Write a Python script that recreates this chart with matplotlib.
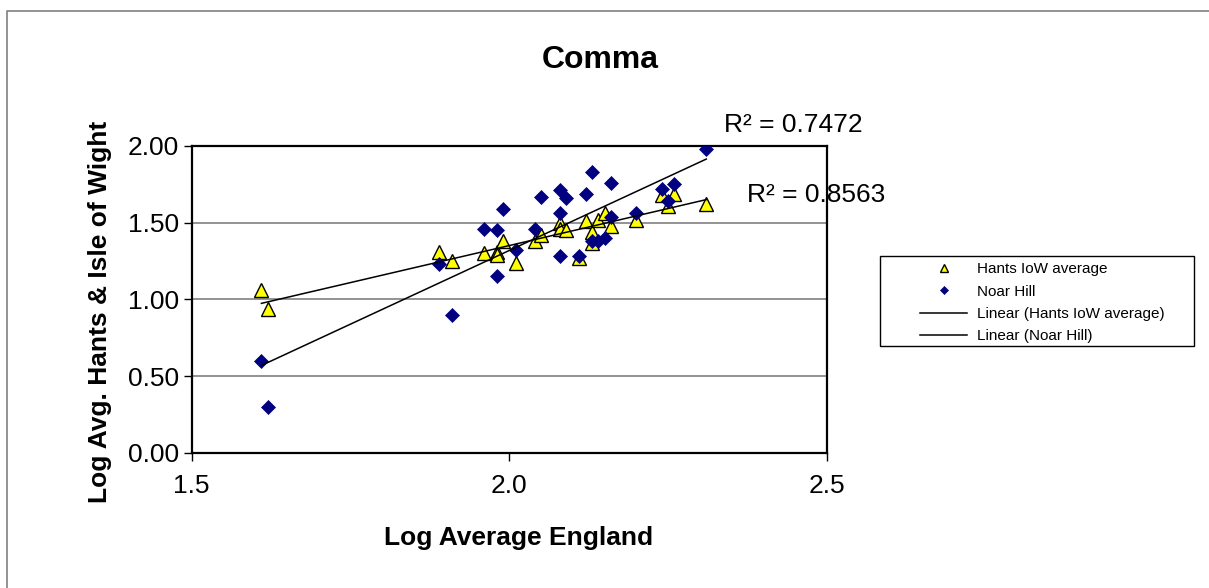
#%% COMMA - log abundance, Hants & IoW vs England
import numpy as np
import matplotlib
matplotlib.use('Agg')
import matplotlib.pyplot as plt
from matplotlib.lines import Line2D
from matplotlib.patches import Rectangle

plt.rcParams['font.family'] = ['Liberation Sans', 'DejaVu Sans']

#%% DATAS

# Hants IoW average (triangles)
hants_x = [1.61, 1.62, 1.89, 1.91, 1.96, 1.98, 1.98, 1.99, 2.01, 2.04, 2.05, 2.08, 2.08,
           2.09, 2.12, 2.13, 2.13, 2.11, 2.14, 2.15, 2.16, 2.20, 2.24, 2.26, 2.25, 2.31]
hants_y = [1.06, 0.94, 1.31, 1.25, 1.30, 1.31, 1.29, 1.38, 1.24, 1.38, 1.42, 1.50, 1.46,
           1.45, 1.51, 1.44, 1.37, 1.27, 1.52, 1.56, 1.48, 1.52, 1.68, 1.69, 1.61, 1.62]

# Noar Hill (diamonds)
noar_x = [1.61, 1.62, 1.89, 1.91, 1.96, 1.98, 1.99, 1.98, 2.01, 2.04, 2.05, 2.08, 2.09, 2.08,
          2.08, 2.11, 2.12, 2.13, 2.13, 2.14, 2.15, 2.16, 2.16, 2.20, 2.24, 2.26, 2.25, 2.31]
noar_y = [0.60, 0.30, 1.23, 0.90, 1.46, 1.45, 1.59, 1.15, 1.32, 1.46, 1.67, 1.71, 1.66, 1.56,
          1.28, 1.28, 1.69, 1.83, 1.38, 1.38, 1.40, 1.76, 1.54, 1.56, 1.72, 1.75, 1.64, 1.98]

r2_labels = ['R² = 0.7472', 'R² = 0.8563']
yticks = [0.0, 0.5, 1.0, 1.5, 2.0]
xticks = [1.5, 2.0, 2.5]

#%% PLOT

W, H = 1209, 588
fig = plt.figure(figsize=(W/100, H/100), dpi=100)

def fx(px):
    return px/W

def fy(py):
    return 1 - py/H

# outer chart frame (only left and top edges fall inside the picture)
fig.add_artist(Line2D([fx(7), fx(7), fx(1209)], [fy(588), fy(11), fy(11)],
                      transform=fig.transFigure, color='#808080', linewidth=1.2))

ax = fig.add_axes([fx(191.5), fy(452.7), fx(827)-fx(191.5), fy(146)-fy(452.7)])

for v in yticks[1:-1]:
    ax.axhline(v, color='#808080', linewidth=1.2, zorder=0)

ax.plot(hants_x, hants_y, linestyle='none', marker='^', markersize=9.5,
        markerfacecolor='#FFFF00', markeredgecolor='black', markeredgewidth=1,
        label='Hants IoW average', zorder=3)
ax.plot(noar_x, noar_y, linestyle='none', marker='D', markersize=6.8,
        markerfacecolor='#000080', markeredgecolor='#000080', markeredgewidth=0.5,
        label='Noar Hill', zorder=3)

# linear trend lines
for xs, ys, lab in [(hants_x, hants_y, 'Linear (Hants IoW average)'),
                    (noar_x, noar_y, 'Linear (Noar Hill)')]:
    p = np.polyfit(xs, ys, 1)
    xx = np.array([min(xs), max(xs)])
    ax.plot(xx, np.polyval(p, xx), color='black', linewidth=1.1, label=lab, zorder=4)

ax.set_xlim(1.5, 2.5)
ax.set_ylim(0, 2)
ax.set_xticks(xticks)
ax.set_xticklabels(['%.1f' % t for t in xticks])
ax.set_yticks(yticks)
ax.set_yticklabels(['%.2f' % t for t in yticks])
ax.tick_params(direction='out', length=6, width=1, labelsize=19, pad=3)
ax.tick_params(axis='x', pad=9.5)
for s in ax.spines.values():
    s.set_linewidth(1.6)

ax.text(2.338, 2.136, r2_labels[0], fontsize=19, va='center', ha='left', clip_on=False)
ax.text(2.374, 1.68, r2_labels[1], fontsize=19, va='center', ha='left', clip_on=False)

fig.text(fx(600), fy(60), 'Comma', fontsize=23, fontweight='bold', ha='center', va='center')
fig.text(fx(519), fy(538), 'Log Average England', fontsize=19, fontweight='bold',
         ha='center', va='center')
fig.text(fx(100), fy(312), 'Log Avg. Hants & Isle of Wight', fontsize=19, fontweight='bold',
         ha='center', va='center', rotation=90)

# legend box drawn apart, entries shifted right as in the original
fig.patches.append(Rectangle((fx(880), fy(346)), fx(1194)-fx(880), fy(256)-fy(346),
                             transform=fig.transFigure, fill=False,
                             edgecolor='black', linewidth=1))
leg = fig.legend(*ax.get_legend_handles_labels(), loc='upper left',
                 bbox_to_anchor=(fx(914), fy(256)),
                 borderaxespad=0, fontsize=11, frameon=False,
                 markerscale=0.55, handlelength=3.1, handletextpad=0.6,
                 labelspacing=0.55, borderpad=0.4)

fig.savefig('out.png', dpi=100)
